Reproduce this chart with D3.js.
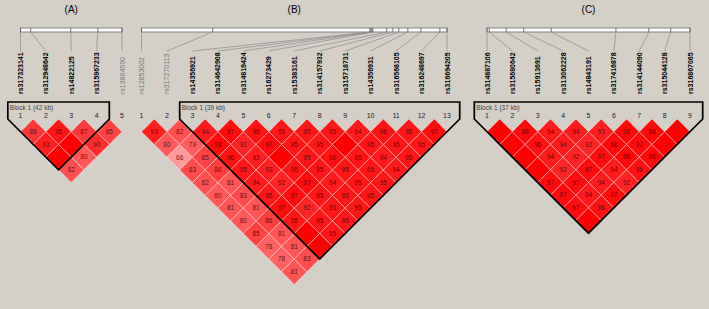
<!DOCTYPE html>
<html>
    <head>
        <meta charset="utf-8">
        <title>LD blocks</title>
        <style>
            html, body {
                margin: 0px;
                padding: 0px;
                background-color: #d4d0c8;
            }
            svg {
                display: block;
                font-family: "Liberation Sans", Arial, sans-serif;
            }
        </style>
        <script src="https://cdn.jsdelivr.net/npm/d3@7/dist/d3.min.js"></script>
    </head>
    <body>
        <div id="main"></div>

        <script>
            // panel A
            var namesA = ["rs317323141", "rs312948642", "rs14822125", "rs315967233", "rs13864590"];
            var posA = [0, 5.5, 27.3, 42.0, 55.1];              // kb
            var blockA = [1, 4];
            var blockLabelA = "Block 1 (42 kb)";
            // D' x100, row i = marker i against markers i+1..n, null = 1.0
            var ldA = [
                [88, 93, null, 82],
                [95, null, 80],
                [87, 90],
                [85]
            ];

            // panel B
            var namesB = ["rs12853002", "rs317270113", "rs14356921", "rs314642908", "rs314819424",
                          "rs16273429", "rs15383161", "rs314157932", "rs315718731", "rs14356931",
                          "rs316568105", "rs316248697", "rs316694205"];
            var posB = [0, 36, 115.5, 116, 116.5, 117, 124, 127.1, 130.1, 134.7, 141.3, 150.9, 154.5];
            var blockB = [3, 13];
            var blockLabelB = "Block 1 (39 kb)";
            var ldB = [
                [93, 80, 66, 83, 82, 80, 81, 80, 85, 78, 78, 81],
                [82, 79, 85, 86, 81, 83, 81, 86, 81, 81, 83],
                [94, 98, 96, 95, 94, 95, 97, 95, null, null],
                [97, 92, 93, 93, 92, 97, 92, 95, 95],
                [96, 97, null, 95, 97, 95, 95, 95],
                [95, 95, 95, 95, 94, 95, 95],
                [95, 95, 96, 95, 95, 95],
                [95, null, 95, 95, 95],
                [94, 95, 94, 94],
                [96, 95, 95],
                [95, 95],
                [97]
            ];

            // panel C
            var namesC = ["rs314887106", "rs315680642", "rs15913691", "rs313062228", "rs14843191",
                          "rs317416878", "rs314144090", "rs315044128", "rs316867065"];
            var posC = [0, 0.4, 3.5, 6.7, 11.7, 23.5, 29.5, 33.5, 37.0];
            var blockC = [1, 9];
            var blockLabelC = "Block 1 (37 kb)";
            var ldC = [
                [null, null, null, null, 97, 97, 97, null],
                [98, 96, 94, 92, 97, 94, 96],
                [94, 94, 92, 97, 94, 97],
                [94, 92, 97, 94, 92],
                [93, 98, 98, 96],
                [98, 97, 98],
                [98, null],
                [null]
            ];

            var width = 709;
            var height = 309;
            var barY = 28;
            var barH = 4;
            var labelTop = 51;
            var labelBase = 94;
            var cellTop = 119;
            var blockTop = 102;

            function cellColor(v) {
                if (v == null) return "#ff0000";
                var g = Math.round((255 - 32) * 2 * (1 - v / 100));
                return d3.rgb(255, g, g).toString();
            }

            function drawPanel(svg, title, names, pos, ld, block, blockLabel, x0, x1) {
                var idx = d3.range(1, names.length + 1);
                var x = d3.scalePoint().domain(idx).range([x0, x1]);
                var h = x.step() / 2;
                var phys = d3.scaleLinear().domain(d3.extent(pos)).range([x0, x1]);
                var g = svg.append("g");

                g.append("text")
                    .attr("x", (x0 + x1) / 2)
                    .attr("y", 13)
                    .attr("text-anchor", "middle")
                    .attr("font-size", 10)
                    .attr("fill", "#000")
                    .text(title);

                // physical map
                g.append("rect")
                    .attr("x", phys(pos[0]))
                    .attr("y", barY)
                    .attr("width", phys(pos[pos.length - 1]) - phys(pos[0]))
                    .attr("height", barH)
                    .attr("fill", "#fff")
                    .attr("stroke", "#666")
                    .attr("stroke-width", 0.8);

                g.selectAll(".tick").data(pos).enter().append("line")
                    .attr("x1", function(d) { return phys(d); })
                    .attr("x2", function(d) { return phys(d); })
                    .attr("y1", barY)
                    .attr("y2", barY + barH)
                    .attr("stroke", "#555")
                    .attr("stroke-width", 0.8);

                g.selectAll(".conn").data(pos).enter().append("line")
                    .attr("x1", function(d) { return phys(d); })
                    .attr("y1", barY + barH)
                    .attr("x2", function(d, i) { return x(i + 1); })
                    .attr("y2", labelTop)
                    .attr("stroke", "#8a8a8a")
                    .attr("stroke-width", 0.7);

                g.selectAll(".name").data(names).enter().append("text")
                    .attr("transform", function(d, i) {
                        return "translate(" + (x(i + 1) + 2.5) + "," + labelBase + ") rotate(-90)";
                    })
                    .attr("font-size", 7)
                    .attr("font-weight", function(d, i) {
                        return (i + 1 >= block[0] && i + 1 <= block[1]) ? "bold" : "normal";
                    })
                    .attr("fill", function(d, i) {
                        return (i + 1 >= block[0] && i + 1 <= block[1]) ? "#000" : "#777";
                    })
                    .text(function(d) { return d; });

                g.selectAll(".num").data(idx).enter().append("text")
                    .attr("x", function(d) { return x(d); })
                    .attr("y", 118)
                    .attr("text-anchor", "middle")
                    .attr("font-size", 7)
                    .attr("fill", "#222")
                    .text(function(d) { return d; });

                // LD cells
                var cells = [];
                ld.forEach(function(row, i) {
                    row.forEach(function(v, k) {
                        cells.push({a: i + 1, b: i + 2 + k, v: v});
                    });
                });

                var cg = g.selectAll(".cell").data(cells).enter().append("g")
                    .attr("transform", function(d) {
                        var cx = (x(d.a) + x(d.b)) / 2;
                        var cy = cellTop + (d.b - d.a) * h;
                        return "translate(" + cx + "," + cy + ")";
                    });

                cg.append("path")
                    .attr("d", "M0," + (-h) + "L" + h + ",0L0," + h + "L" + (-h) + ",0Z")
                    .attr("fill", function(d) { return cellColor(d.v); })
                    .attr("stroke", "#fff")
                    .attr("stroke-opacity", 0.55)
                    .attr("stroke-width", 0.7);

                cg.filter(function(d) { return d.v != null; })
                    .append("text")
                    .attr("y", 2.3)
                    .attr("text-anchor", "middle")
                    .attr("font-size", 6.5)
                    .attr("fill", "#4a0000")
                    .attr("fill-opacity", 0.85)
                    .text(function(d) { return d.v; });

                // block outline
                var bx = (x(block[0]) + x(block[1])) / 2;
                var by = cellTop + (block[1] - block[0]) * h + h;
                var lx = x(block[0]) - h;
                var rx = x(block[1]) + h;
                var outline = d3.path();
                outline.moveTo(rx, blockTop);
                outline.lineTo(lx, blockTop);
                outline.lineTo(lx, by - (bx - lx));
                outline.lineTo(bx, by);
                outline.lineTo(rx, by - (rx - bx));
                outline.closePath();
                g.append("path")
                    .attr("d", outline.toString())
                    .attr("fill", "none")
                    .attr("stroke", "#000")
                    .attr("stroke-width", 1.7)
                    .attr("stroke-linejoin", "miter");

                g.append("text")
                    .attr("x", lx + 2)
                    .attr("y", blockTop + 8)
                    .attr("font-size", 6.5)
                    .attr("fill", "#444")
                    .text(blockLabel);
            }

            function main() {
                var svg = d3.select("#main")
                    .append("svg")
                    .attr("width", width)
                    .attr("height", height);

                svg.append("rect")
                    .attr("width", width)
                    .attr("height", height)
                    .attr("fill", "#d4d0c8");

                drawPanel(svg, "(A)", namesA, posA, ldA, blockA, blockLabelA, 20.5, 122);
                drawPanel(svg, "(B)", namesB, posB, ldB, blockB, blockLabelB, 141.5, 447);
                drawPanel(svg, "(C)", namesC, posC, ldC, blockC, blockLabelC, 487, 690);
            }

            main();
        </script>
    </body>
</html>
